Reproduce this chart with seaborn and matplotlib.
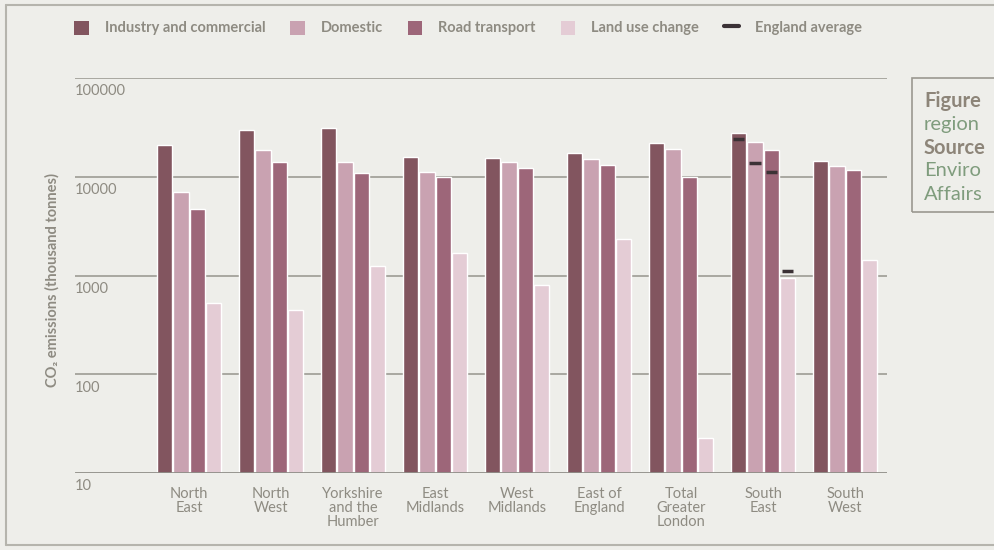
import numpy as np
import pandas as pd
import seaborn as sns
import matplotlib.pyplot as plt
from matplotlib.patches import Patch, Rectangle
from matplotlib.lines import Line2D

regions = ["North\nEast", "North\nWest", "Yorkshire\nand the\nHumber", "East\nMidlands",
           "West\nMidlands", "East of\nEngland", "Total\nGreater\nLondon", "South\nEast", "South\nWest"]
sources = ["Industry and commercial", "Domestic", "Road transport", "Land use change"]

industry = [21000, 29900, 31300, 15900, 15500, 17500, 22000, 27900, 14500]
domestic = [7000, 18700, 14200, 11200, 14200, 15200, 19000, 22500, 12900]
road = [4700, 14200, 10900, 10000, 12300, 13200, 10000, 18700, 11700]
land_use = [530, 450, 1250, 1700, 800, 2350, 22.6, 950, 1440]

# England average, shown against the South East bars
avg_region = "South\nEast"
england_avg = [24000, 13800, 11200, 1110]

yticks = [10, 100, 1000, 10000, 100000]

colors = ["#82555f", "#c9a2b1", "#9d6679", "#e4ccd5"]
bg = "#eeeeea"
txt = "#8e8b82"
grid = "#a3a29b"

df = pd.DataFrame({
    "region": regions * 4,
    "source": np.repeat(sources, len(regions)),
    "value": industry + domestic + road + land_use,
})

sns.set_style("white")
plt.rcParams["font.family"] = ["Lato", "DejaVu Sans"]

fig = plt.figure(figsize=(9.94, 5.5), dpi=100, facecolor=bg)
ax = fig.add_axes([75 / 994, 1 - 473 / 550, 812 / 994, 395 / 550])
ax.set_facecolor(bg)
ax.set_yscale("log")

for v in yticks[1:]:
    ax.axhline(v, color=grid, lw=1.3, zorder=0)
ax.axhline(10, color="#8f8e88", lw=2, zorder=3)

sns.barplot(data=df, x="region", y="value", hue="source", palette=colors,
            width=0.8, gap=0.06, saturation=1, legend=False, ax=ax, zorder=2)

# England average dashes
xi = regions.index(avg_region)
for i, v in enumerate(england_avg):
    xc = xi + (i - 1.5) * 0.2
    ax.plot([xc - 0.07, xc + 0.07], [v, v], color="#3b3236", lw=2.5,
            solid_capstyle="butt", zorder=4)

ax.set_xlim(-1.39, 8.51)
ax.set_ylim(10, 100000)
ax.set_yticks([])
ax.minorticks_off()
ax.tick_params(axis="x", length=0, pad=10, labelsize=10.5, labelcolor=txt)
for lab in ax.get_xticklabels():
    lab.set_linespacing(1.0)
ax.set_xlabel("")
ax.set_ylabel("")
for s in ax.spines.values():
    s.set_visible(False)

for v in yticks:
    ax.text(0.0, v * 0.86, str(v), transform=ax.get_yaxis_transform(), ha="left", va="top",
            fontsize=10.5, color=txt)

fig.text(52 / 994, 1 - 280 / 550, "CO₂ emissions (thousand tonnes)", rotation=90,
         ha="center", va="center", fontsize=10.5, color=txt, fontweight="bold")

handles = [Patch(facecolor=c, edgecolor="none") for c in colors]
handles.append(Line2D([0], [0], color="#3b3236", lw=3))
leg = fig.legend(handles, sources + ["England average"], loc="center left",
                 bbox_to_anchor=(61 / 994, 1 - 28 / 550), ncol=5, frameon=False,
                 handlelength=1.0, handleheight=1.1, handletextpad=1.1,
                 columnspacing=1.7, fontsize=10.5)
for t in leg.get_texts():
    t.set_color(txt)
    t.set_fontweight("bold")

# outer panel frame
fig.add_artist(Line2D([6 / 994, 6 / 994], [5 / 550, 545 / 550], color="#b5b4ad", lw=1.5))
fig.add_artist(Line2D([6 / 994, 1], [545 / 550, 545 / 550], color="#b5b4ad", lw=1.5))
fig.add_artist(Line2D([6 / 994, 1], [5 / 550, 5 / 550], color="#b5b4ad", lw=1.5))

# caption box on the right, cut by the page edge
fig.add_artist(Rectangle((912 / 994, 1 - 212 / 550), 0.2, 134 / 550, fill=False,
                         edgecolor="#9a9890", lw=1.2, transform=fig.transFigure))
cap = [("Figure", "bold", "#8d8579"), ("region", "normal", "#7f9c7d"),
       ("Source", "bold", "#8d8579"), ("Enviro", "normal", "#7f9c7d"),
       ("Affairs", "normal", "#7f9c7d")]
for k, (s, w, c) in enumerate(cap):
    fig.text(924 / 994, 1 - (101 + k * 23.3) / 550, s, ha="left", va="center",
             fontsize=14.5, fontweight=w, color=c)

fig.savefig("out.png", dpi=100, facecolor=bg)
